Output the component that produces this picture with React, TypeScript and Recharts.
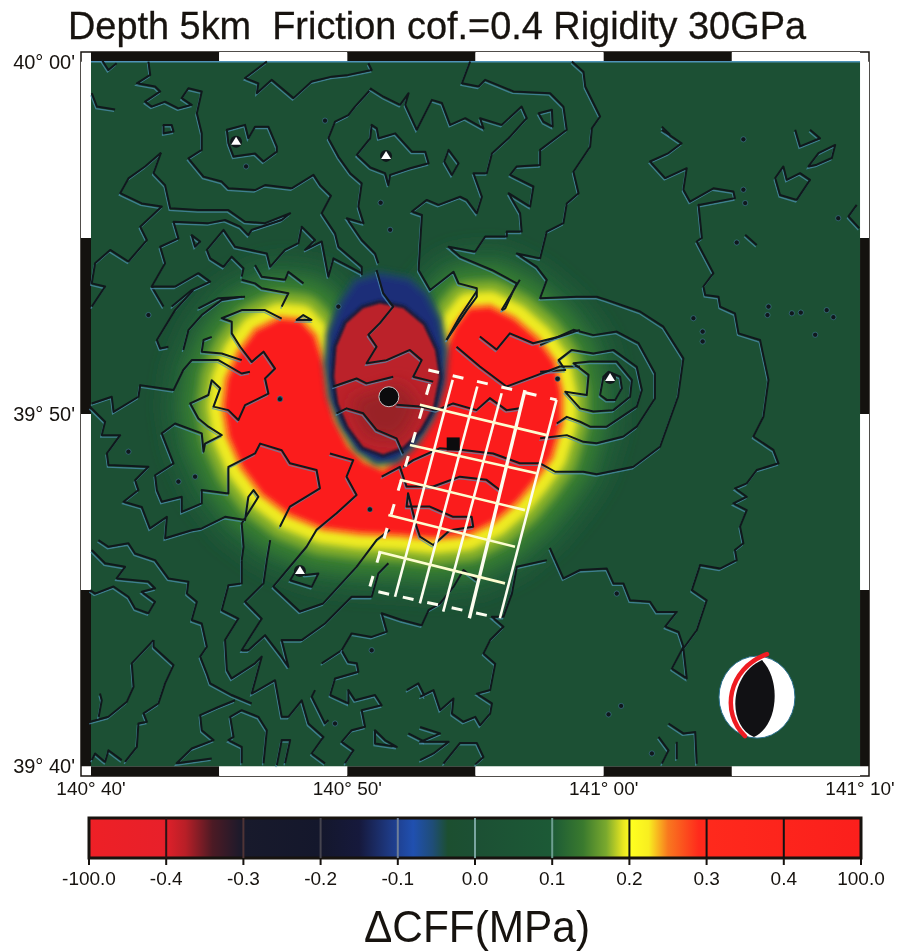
import { Curve, ReferenceArea, ReferenceLine, Scatter, ScatterChart, XAxis, YAxis } from "recharts"

// map coordinates: arc minutes past 140°00'E and 39°00'N
const lonTicks = [40, 50, 60, 70]
const latTicks = [60, 50, 40]
const frameLon = [40, 45, 50, 55, 60, 65, 70]
const frameLat = [60, 55, 50, 45, 40]

// dCFF = 0.3 MPa outline of the two positive lobes
const lobeOutline = [48.67,52.2, 48.15,52.62, 47.37,52.67, 46.46,52.34, 45.81,51.72, 45.36,50.97, 45.23,50.21, 45.42,49.36, 45.94,48.5, 46.72,47.75, 47.76,47.18, 49.06,46.8, 50.49,46.66, 52.05,46.61, 53.35,46.52, 54.65,46.61, 55.69,46.99, 56.6,47.56, 57.25,48.13, 57.9,48.79, 58.29,49.74, 58.29,50.59, 58.03,51.44, 57.38,52.1, 56.47,52.67, 55.56,53, 54.78,52.96, 54.26,52.48, 53.94,51.91, 53.74,51.35, 53.48,50.49, 53.35,49.93, 52.83,49.26, 52.18,48.79, 51.4,48.36, 50.62,48.6, 49.97,49.07, 49.45,49.83, 49.19,50.59, 49.06,51.35]
const shadowOutline = [51.27,54, 52.4,53.85, 53.09,53.43, 53.61,52.67, 53.84,51.82, 53.74,50.87, 53.35,49.93, 52.7,49.17, 51.92,48.65, 51.14,48.6, 50.36,48.98, 49.71,49.74, 49.32,50.49, 49.16,51.44, 49.26,52.29, 49.71,53.15, 50.3,53.8]
const coreOutline = [51.27,53.14, 52.18,53, 52.96,52.53, 53.42,51.82, 53.58,51.06, 53.35,50.21, 52.83,49.55, 52.18,49.07, 51.4,48.86, 50.62,49.07, 50.04,49.64, 49.65,50.3, 49.49,51.06, 49.58,51.91, 49.97,52.58, 50.62,53]
const coreDeep = [50.1,50.4, 52.05,50.87, 52.83,50.21, 52.05,49.26, 50.75,49.36]
const mapCorners = [40,40, 40,60, 70,60, 70,40]

// halo colours for the lobes, widest first
const bandColors = ["#235f38", "#357a33", "#86b02c", "#eeea22", "#f98a20", "#fb1f1c"]
const bandWidths = [124, 88, 56, 34, 10, 0]
const bandBlurs = [9, 7, 4, 3, 2, 2]

// topography, open lines
const topoLines = [
  [42.24,60.01, 42.31,59.63, 41.79,59.39, 42.5,59.3, 42.7,59.16, 42.11,58.87, 42.37,58.73, 42.89,58.87, 43.41,58.68, 43.93,58.78, 43.54,58.97, 43.8,59.25, 44.32,59.16, 44.13,58.54, 44.32,57.97, 44.32,57.5, 43.8,57.26, 44.39,56.74, 45.1,56.6, 45.36,56.41, 46.4,56.36, 46.79,56.5, 47.83,56.41, 48.68,56.79, 48.94,56.5, 49.36,56.2, 49,55.7, 49.52,55.13, 49.65,54.75, 50.56,54.18, 50.56,53.95],
  [40.03,59.11, 40.23,58.73, 40.94,58.65],
  [40.42,60.06, 40.68,59.77, 41,59.96],
  [46.86,60.01, 46.01,59.54, 46.53,59.39, 46.47,59.11, 47.05,59.49, 47.9,58.97, 48.61,59.44, 49.39,59.58, 50.04,59.63, 50.95,59.77, 50.82,59.96],
  [50.95,59.25, 50.3,58.73, 50.04,58.49, 49.52,58.3, 49.26,57.83, 49.65,57.31, 50.11,56.84, 50.56,56.55, 50.43,55.89, 50.63,55.42, 49.98,55.56, 50.56,54.94, 51.08,54.56, 51.21,54.28],
  [42.73,57.42, 42.11,57.03, 41.46,56.69, 41.14,56.27, 41.98,55.98, 42.76,55.89, 41.92,55.32, 42.18,54.94, 41.46,54.33, 40.75,54.66, 40.16,54.28, 40.03,53.71, 40.55,53.62, 40.03,53.05],
  [42.73,57.42, 42.44,56.84, 42.89,56.5, 43.09,55.84, 44.19,55.79, 45.36,55.79, 46.01,55.46, 46.79,55.42, 47.77,55.7, 47.44,55.51, 46.27,55.23, 46.14,55.08, 45.82,55.32, 45.23,55.51, 44.58,55.42, 43.22,55.46, 43.41,54.99, 42.7,54.75, 42.89,54.28, 42.37,53.62, 42.83,53.05],
  [45.88,53.9, 45.95,54.14, 45.49,54.47, 45.17,54.18, 44.65,54.42, 44.52,54.66, 45.17,55.23, 45.62,54.75, 46.86,54.56, 46.99,54.18, 47.57,54.66, 48.09,54.85, 48.22,55.32, 48.74,54.94, 48.35,54.66, 49,54.9, 49.26,53.9, 49.46,54.42, 50.56,54],
  [46.4,54.23, 46.66,53.9, 47.57,53.81, 47.7,54.04, 48.29,53.71],
  [42.37,53.62, 43.28,53.62, 44.19,54, 44.65,53.76, 43.93,53.52, 43.15,53.05],
  [44.19,53, 44.97,53.29, 46.01,53.33],
  [45.88,53.81, 46.4,53.71, 46.66,53.57, 47.7,53.43, 47.44,53.05],
  [43.99,53.52, 43.28,52.95, 42.57,52.1, 42.7,51.86, 43.02,51.91],
  [43.6,51.82, 43.8,52.38, 44.32,52.81, 45.1,53.24, 45.88,53.33],
  [47.44,52.71, 46.79,52.95, 45.88,52.95, 45.1,52.72, 45.49,52.62, 45.49,52.29, 45.82,51.91, 46.27,51.48, 46.73,51.77, 47.18,51.29, 46.79,51.01, 46.92,50.58, 46.01,50.25, 45.75,49.83, 45.36,50.11, 44.78,50.21, 45.04,50.73, 44.71,50.96, 44.58,50.54, 43.87,50.3, 44.19,49.87, 44.58,49.64, 45.1,49.4, 44.45,49.16, 44.39,48.93, 44.32,49.45, 43.28,49.73, 42.76,49.45, 43.22,48.6, 42.5,48.26, 42.57,47.84, 42.76,47.51, 43.54,47.65, 43.54,47.22, 44.32,47.46, 44.32,47.84, 45.36,47.74, 45.36,48.5, 46.4,48.88, 46.6,49.16, 47.44,48.97, 47.76,48.6, 48.8,48.41, 48.93,47.89, 47.76,47.37, 47.37,46.8],
  [40.03,50.3, 40.81,50.49, 40.88,50.06, 41.85,50.49, 41.92,50.82, 43.22,50.68, 43.6,51.25, 43.93,51.53, 44.97,51.53, 45.88,51.15, 46.2,51.2],
  [44.71,52.19, 44.39,52.1, 44.32,51.77, 45.1,51.72, 45.88,51.53],
  [39.97,50.2, 40.55,49.78, 40.42,49.4, 41.14,49.4, 40.62,48.88, 40.68,48.55, 42.24,48.5, 41.72,48.12, 41.85,47.84, 41.27,47.51, 41.98,47.36, 42.3,46.75, 42.96,47.08, 42.89,46.47, 43.93,46.7, 44.32,46.75, 45.23,47.08, 46.01,46.99, 46.14,47.65, 46.34,47.84, 46.53,47.65, 45.88,46.89, 45.95,46.23, 45.88,45.85],
  [49.32,48.88, 50.23,48.69, 49.97,48.22, 50.36,47.7, 49.58,47.18, 48.8,46.71, 48.41,46.23, 47.11,45.1, 48.15,44.39, 49.06,44.62, 50.36,45.66, 51.14,46.42, 51.66,46.71],
  [51.14,54.09, 51.4,53.43, 51.79,53.05, 51.27,52.58, 50.82,52.25, 51.14,51.91, 50.75,51.44, 51.53,51.53, 52.44,51.82, 52.9,51.53, 52.57,51.06, 53.35,50.92],
  [49.45,50.78, 50.36,51.01, 50.75,50.87, 51.79,51.06],
  [49.58,50.02, 49.97,50.16, 50.62,50.02, 51.14,49.55, 51.92,49.31, 52.18,48.88],
  [51.92,50.26, 52.83,50.21, 53.48,50.11, 54.13,50.3, 55.04,50.11, 55.56,50.45, 56.21,50.11, 56.73,50.16],
  [50.89,59.25, 51.41,59.01, 52.06,58.78, 52.39,59.11, 52.26,58.78, 52.71,58.07, 53.3,58.92, 53.69,58.83, 54.01,58.21, 54.6,58.4, 55.31,58.11, 55.18,58.4, 56.02,58.21, 56.8,58.73, 57,58.4, 56.29,57.83, 55.64,57.4, 55.44,56.84, 54.92,56.84, 55.25,56.17, 55.05,55.7, 54.66,56.08, 54.4,56.17, 53.56,55.94, 53.1,56.08, 52.52,55.75, 52.91,55.65, 52.84,54.85, 52.78,54.09, 53.23,53.52, 54.14,54.04, 54.34,53.71, 55.05,53.57, 55.05,53.33, 54.66,52.95, 53.87,52.1],
  [54.79,60.01, 54.47,59.39, 55.12,59.3, 55.38,59.49, 56.48,59.16, 57.91,59.11, 58.43,58.73, 58.56,58.07, 57.52,57.5, 57.52,57.07, 56.61,57.03, 56.35,56.79, 57.26,56.46, 57.13,55.89, 56.29,56.27, 56.74,55.7, 56.8,55.18, 56.22,55.18, 56.22,55.04, 55.38,55.04, 54.99,54.61, 53.95,54.75, 54.4,54.47, 55.64,54.09, 56.61,53.71, 56.16,53, 56.02,52.95],
  [58.76,60.01, 59.21,59.72, 59.28,59.3, 59.86,58.45, 59.54,58.11, 59.47,57.59, 58.82,56.88, 59.02,56.27, 58.56,55.98, 58.43,55.42, 57.78,55.18, 57.52,54.42, 56.61,54.56, 57.39,54.18, 57.78,53.81, 57.52,53.29, 58.95,53.33, 59.73,53.33, 60.12,53.24, 61.42,52.91, 62.33,52.48, 63.11,51.58, 62.9,50.49, 62.2,49.07, 61.16,48.5, 59.73,48.29, 59.21,48.36, 58.11,48.36, 57.52,48.6, 56.73,48.6, 55.69,48.88, 54.52,48.98, 53.61,49.03, 52.57,48.69, 52.18,48.5],
  [57.52,51.96, 58.82,52.39, 59.6,52.24, 60.51,52.34, 61.36,52.01, 62,51.16, 62,50.44, 61.29,49.64, 60.77,49.36, 59.73,49.17, 59.21,49.21, 58.56,49.4, 57.52,49.31],
  [57.52,51.2, 58.5,51.25, 58.24,51.53, 58.76,51.82, 59.6,51.72, 60.38,51.82, 61.29,51.34, 61.49,50.68, 61.29,50.21, 60.12,49.64, 59.47,49.64, 59.08,49.78, 58.56,49.92, 58.17,49.73],
  [62.27,58.16, 62.59,57.93],
  [62.27,58.07, 63.04,57.69, 62.53,57.41, 61.81,57.17, 62.4,56.7, 63.24,56.98, 63.11,56.37, 63.37,56.03, 64.28,56.41, 65.06,56.32, 65.12,56.13, 63.76,55.94, 63.7,55.94, 63.83,55, 63.63,54.9, 64.28,54, 63.89,53.62, 63.96,53.38, 64.48,53.33, 64.54,53.05, 65.12,52.86, 65.26,52.29, 66.1,52.1, 66.43,50.97, 66.23,49.92, 65.84,49.36, 66.62,48.98, 66.82,48.6, 65.97,48.41, 65.58,48.03, 65.12,47.89, 65.58,47.65, 65.06,47.46, 65.58,47.27, 65.32,46.8, 65.45,46.33, 65.12,46.14, 65.19,45.85, 64.54,45.61, 63.76,45.71, 63.44,45, 64.02,44.71, 63.63,43.86, 63.11,43.34, 63.24,42.49, 62.66,42.77, 63.11,43.39, 62.92,43.81, 62.4,43.96, 62.85,44.38, 62.07,44.38, 61.81,44.67, 61.03,44.71, 60.77,45.19, 60.38,45.19, 60.12,45.61, 59.08,45.57, 58.43,45.33, 58.11,45.85],
  [67.47,58.07, 67.66,57.6, 68.44,57.83, 68.05,58.07],
  [69.87,55.94, 69.55,55.61, 69.97,55.28],
  [65.52,55.09, 65.97,54.8],
  [40.29,46.42, 40.68,46.23, 41.46,46.33, 41.72,46.04, 42.5,45.85, 43.02,45.33, 43.8,45.24, 43.74,44.9, 44.13,44.67, 43.93,44.15, 44.32,44.05, 44.52,43.39, 44.26,43.11, 44.52,42.63, 44.65,42.35, 45.49,42.02, 46.27,41.78],
  [40.03,46.14, 40.55,45.76, 41.33,45.66, 41,45.33, 42.24,45.24, 42.5,45.05, 41.98,44.95, 42.5,44.67, 42.24,44.34, 41.72,44.48, 41.46,44.81, 40.88,45.1, 40.16,44.9, 39.97,45],
  [45.88,45.85, 45.88,45.19, 45.36,45.14, 45.1,44.43, 45.75,44.19, 45.23,43.58, 45.3,42.73, 45.49,42.49, 46.4,42.92, 46.66,43.11, 46.27,42.06, 47.18,42.44, 47.44,41.4, 47.7,41.4, 48.22,41.87, 48.48,41.21, 49.07,40.83, 48.61,40.36, 49.13,40.08],
  [46.99,46.42, 46.86,45.85, 46.73,45.19, 46.01,44.67, 46.66,44.19, 45.88,43.29, 46.14,43.29, 46.79,43.72, 47.44,43.1, 47.7,42.82, 47.44,43.58, 48.22,43.58, 49.13,44.05, 50.17,44.81, 50.56,44.81, 50.95,44.81, 51.21,45.47, 51.6,45.76],
  [42.44,43.58, 41.59,42.92, 41.66,42.25, 41.4,41.83, 40.68,41.4, 39.97,41.26],
  [42.44,43.58, 42.44,43.39, 43.22,42.87, 42.89,42.35, 42.63,41.78, 42.05,41.5, 42.18,41.26, 41.85,41.21, 41.79,40.55, 41.33,40.12],
  [40.35,42.06, 40.42,41.87, 40.3,41.4],
  [40.03,40.17, 40.16,40.36, 40.55,40.12, 40.68,40.45, 41.2,40.17],
  [45.62,41.87, 44.97,41.68, 44.26,41.45, 44.32,41.02, 44.78,40.74, 43.93,40.5, 43.34,40.08, 44.71,40.22],
  [46.73,40.08, 46.86,41.02, 46.53,41.4, 45.88,41.59, 45.43,41.4, 45.56,40.83, 45.36,40.74, 45.88,40.55, 45.88,40.08],
  [47.25,40.03, 47.44,40.74, 47.77,40.74, 47.57,40.08],
  [48.74,42.16, 48.61,41.97, 49.13,41.21, 49.26,41.31],
  [49,42.92, 49.78,43.29, 50.04,42.96, 50.37,42.92, 50.43,42.68, 49.52,42.49, 49.33,42.02, 50.04,41.78, 50.04,42.16, 50.3,41.87, 51.08,42.02, 51.34,41.73, 50.56,41.59, 50.69,41.12, 50.17,41.02, 49.78,40.69, 50.24,40.45, 49.91,40.08],
  [49.78,43.29, 50.17,43.77, 50.95,43.67, 51.54,43.82, 51.34,44.34, 52.12,44.15, 52.9,44, 53.17,44.43, 53.62,44.62, 54.14,45.09, 54.53,45.57, 55.05,45.28],
  [52.32,42.16, 52.77,42.35, 53.03,41.97],
  [52.38,40.93, 53.03,40.69],
  [57.78,45.85, 56.61,45.66, 56.42,44.9, 56.09,44.24, 55.64,44.24, 56.09,43.96, 55.57,43.58, 55.31,43.2, 55.77,42.91, 55.57,42.16, 55.05,42.06, 55.64,41.78, 55.57,41.49, 55.18,41.16, 54.99,41.4, 54.53,41.26, 54.08,41.49, 54.14,41.92, 53.62,41.59, 53.36,42.16, 52.84,41.97],
  [58.11,45.85, 57.9,46.2],
  [62.14,40.83, 62.53,40.45, 62.27,40.07],
  [62.53,41.21, 63.11,40.93, 63.57,40.97, 63.63,40.07],
  [62.85,40.69, 62.85,40.2],
  [53.75,40.07, 54.4,40.66, 55.05,40.66, 55.31,40.26, 54.99,40.05],
  [52.84,41.11, 53.62,40.93, 52.84,40.69, 53.95,40.69, 53.36,40.36, 52.84,40.17],
  [55.17,52.2, 55.82,51.83, 56.34,52.29, 57.25,52.01, 58.29,52.2, 59.07,52.39],
  [56.02,52.95, 56.73,53.81],
  [53.87,52.1, 54.39,52.77, 55.04,53.48],
  [54.26,51.91, 55.17,51.35, 56.21,50.78, 57.25,51.06, 58.29,51.35, 59.07,51.35],
  [51.34,48.22, 52.05,48.5, 52.31,47.94, 53.35,47.94, 54.39,48.22, 55.43,48.13, 55.95,47.84],
]

// topography, closed loops
const topoLoops = [
  [42.83,58.21, 43.15,58.21, 43.22,58.02, 42.83,57.97],
  [45.3,58.07, 46.01,58.21, 46.14,57.83, 46.4,58.16, 46.92,58.16, 47.25,57.59, 47.25,57.45, 46.73,57.17, 46.4,57.4, 45.56,57.31, 45.36,57.69],
  [50.95,58.21, 50.89,57.83, 50.37,57.36, 50.9,57, 51.47,56.84, 51.6,56.5, 51.67,56.79, 52.45,56.98, 53.17,57.12, 53.04,57.45, 52.52,57.45, 51.87,57.97, 51.22,57.83, 51.15,58.11],
  [43.93,55.08, 44.26,54.9, 44.06,54.75],
  [53.95,57.5, 54.34,57.12, 54.08,56.79, 53.78,57.17],
  [57.46,58.54, 57.98,58.64, 58.01,58.16, 57.65,58.3],
  [58.82,51.44, 59.47,51.49, 60.51,51.49, 61.1,50.97, 61.03,50.49, 60.38,50.11, 59.6,50.07, 59.08,50.16, 58.5,50.63, 59.34,50.54, 59.41,51.11],
  [60.19,51.2, 60.64,51.06, 60.71,50.73, 60.45,50.4, 60.12,50.4, 59.86,50.54, 59.99,51.06],
  [66.69,56.7, 67.01,57.03, 67.14,56.65, 67.66,56.84, 68.05,56.65, 67.53,56.08, 66.88,56.22],
  [67.99,57.03, 68.38,57.41, 69.03,57.64, 68.9,57.27, 68.31,57.08],
  [47.77,45.28, 48.09,45.66, 48.35,45.43, 48.87,45.47, 48.61,45.09],
  [51.08,41.02, 51.08,40.64, 51.93,40.55, 51.47,40.74],
  [52.37,47.75, 52.31,47.37, 53.22,47.37, 54.13,47.08, 54.85,47.08, 54.91,46.8, 54,46.7, 53.35,46.28, 52.83,46.52, 52.7,46.8],
  [48.02,52.67, 48.28,52.81, 48.6,52.67],
]

// tiny closed contours, shown as dots
const topoDots = [46.05,57.03, 49.13,58.33, 47.38,50.44, 41.46,48.93, 42.24,52.81, 43.41,48.08, 44.06,48.22, 51.3,56, 51.67,55.23, 65.45,56.37, 65.52,55.99, 65.19,54.87, 66.43,53.05, 66.39,52.81, 67.34,52.86, 67.69,52.88, 68.7,52.95, 68.96,52.75, 68.25,52.25, 63.5,52.72, 63.86,52.34, 63.86,52.06, 65.45,57.8, 69.15,55.56, 49.52,41.21, 50.95,43.29, 60.19,41.47, 60.68,41.71, 60.51,44.9, 61.88,40.36, 50.88,47.29, 47.37,50.42, 49.65,53.05, 58.2,51]

// source fault grid
const faultStrike = [
  [51.86,44.81, 54.11,50.97],
  [52.83,44.62, 55.07,50.78],
  [53.74,44.39, 56.02,50.59],
  [54.76,44.2, 56.93,50.68],
  [55.95,44.2, 58.16,50.4],
]
const faultDip = [
  [52.83,50.26, 57.77,49.4],
  [52.44,49.12, 57.38,48.32],
  [52.05,48.13, 56.93,47.27],
  [51.6,47.13, 56.54,46.23],
  [51.21,46.09, 56.15,45.19],
]
const faultDashed = [
  [50.88,45.1, 53.35,51.2],
  [53.16,51.25, 58.16,50.4],
  [51.21,44.95, 55.95,44.2],
]

const volcanoes = [{ x: 45.66, y: 57.73 }, { x: 51.51, y: 57.33 }, { x: 60.25, y: 51.02 }, { x: 48.15, y: 45.54 }]
const hypocentre = [{ x: 51.62, y: 50.49 }]
const epicentre = [{ x: 54.13, y: 49.15 }]
const mechanism = [{ x: 65.98, y: 41.96 }]

// colour bar
const barLabels = ["-100.0", "-0.4", "-0.3", "-0.2", "-0.1", "0.0", "0.1", "0.2", "0.3", "0.4", "100.0"]
const barTicks = [0, 1, 2, 3, 4, 5, 6, 7, 8, 9, 10]
const barSeparators = ["", "#2a1416", "#4f3436", "#45444f", "#6f7f98", "#79a5a0", "#6d9f90", "#111111", "#111111", "#111111", ""]
const barStopAt = [0, 0.95, 1.25, 1.6, 2, 3, 3.5, 3.9, 4.2, 4.45, 4.65, 5, 6, 6.4, 6.7, 6.92, 7.02, 7.25, 7.5, 7.9, 10]
const barStopColor = ["#ee2026", "#e8202a", "#b81f27", "#4c1a24", "#181a2c", "#14172c", "#16193c", "#1e3a84", "#2050b0", "#1f4d78", "#1c4f30", "#1c5034", "#1c5a36", "#3a7a2e", "#7aa92e", "#e8e620", "#ffff20", "#f8ee20", "#f8781f", "#ff2a1c", "#fb1f1c"]

const pairs = (flat: number[]) => {
  const out: { x: number; y: number }[] = []
  for (let i = 0; i < flat.length; i += 2) out.push({ x: flat[i], y: flat[i + 1] })
  return out
}

const noSymbol = () => null

const area = (key: string, flat: number[], fill: string, blur: string, stroke = "none", strokeWidth = 0) => (
  <Scatter
    key={key}
    data={pairs(flat)}
    isAnimationActive={false}
    shape={noSymbol}
    line={(p: any) => (
      <g filter={blur}>
        <Curve points={p.points} type="linearClosed" fill={fill} stroke={stroke} strokeWidth={strokeWidth} strokeLinejoin="round" />
      </g>
    )}
  />
)

const contour = (key: string, flat: number[], closed: boolean) => (
  <Scatter
    key={key}
    data={pairs(flat)}
    isAnimationActive={false}
    shape={noSymbol}
    line={(p: any) => (
      <g>
        <Curve points={p.points} type={closed ? "linearClosed" : "linear"} fill="none" stroke="#4f93b8" strokeWidth={1.3} opacity={0.7} transform="translate(-1,2)" />
        <Curve points={p.points} type={closed ? "linearClosed" : "linear"} fill="none" stroke="#10181c" strokeWidth={2} strokeLinejoin="round" />
      </g>
    )}
  />
)

const faultLine = (key: string, flat: number[], color: string, width: number, dash?: string) => (
  <Scatter
    key={key}
    data={pairs(flat)}
    isAnimationActive={false}
    shape={noSymbol}
    line={(p: any) => <Curve points={p.points} type="linear" fill="none" stroke={color} strokeWidth={width} strokeDasharray={dash} />}
  />
)

const lonLabel = (m: number) => (m >= 60 ? `141° ${String(m - 60).padStart(2, "0")}'` : `140° ${m}'`)
const latLabel = (m: number) => (m >= 60 ? `40° ${String(m - 60).padStart(2, "0")}'` : `39° ${m}'`)

const Triangle = (p: any) => (
  <g>
    <circle cx={p.cx} cy={p.cy} r={6} fill="#10181c" />
    <path d={`M${p.cx} ${p.cy - 5}L${p.cx + 5} ${p.cy + 3}L${p.cx - 5} ${p.cy + 3}Z`} fill="#ffffff" />
  </g>
)

const Hypo = (p: any) => <circle cx={p.cx} cy={p.cy} r={10} fill="#0b0b0d" stroke="#c9c4c4" strokeWidth={1} />
const Epi = (p: any) => <rect x={p.cx - 6.5} y={p.cy - 6.5} width={13} height={13} fill="#0c0c0e" />
const Dot = (p: any) => <circle cx={p.cx} cy={p.cy} r={2.6} fill="#10181c" stroke="#4f93b8" strokeOpacity={0.6} strokeWidth={0.8} />

const Beachball = (p: any) => {
  const { cx, cy } = p
  return (
    <g>
      <ellipse cx={cx} cy={cy} rx={38} ry={41} fill="#ffffff" stroke="#2a6f8f" strokeWidth={1} />
      <path d={`M${cx + 5} ${cy - 37}C${cx - 28} ${cy - 22} ${cx - 30} ${cy + 28} ${cx - 3} ${cy + 40}C${cx + 22} ${cy + 28} ${cx + 24} ${cy - 18} ${cx + 5} ${cy - 37}Z`} fill="#111114" />
      <path d={`M${cx + 10} ${cy - 43}C${cx - 30} ${cy - 28} ${cx - 36} ${cy + 16} ${cx - 12} ${cy + 39}`} fill="none" stroke="#ee1c22" strokeWidth={4.5} strokeLinecap="round" />
    </g>
  )
}

const barAnchor = barTicks.map((t) => ({ x: t, y: 0.5 }))

export default function App() {
  return (
    <div style={{ position: "fixed", left: 0, top: 0, width: 900, height: 952, overflow: "hidden", fontFamily: "'Liberation Sans', Arial, sans-serif" }}>
      <div style={{ position: "absolute", left: 0, top: 0 }}>
        <ScatterChart width={900} height={800} margin={{ top: 52, right: 31, bottom: 0, left: 0 }}>
          <defs>
            {bandBlurs.concat([1.5, 1, 8]).map((b) => (
              <filter key={b} id={`blur${String(b).replace(".", "_")}`} filterUnits="userSpaceOnUse" x={0} y={0} width={900} height={800}>
                <feGaussianBlur stdDeviation={b} />
              </filter>
            ))}
          </defs>
          <text x={68} y={39} fontSize={38} fill="#17130f" stroke="#17130f" strokeWidth={0.3} textLength={738} lengthAdjust="spacingAndGlyphs" style={{ whiteSpace: "pre" }}>
            Depth 5km  Friction cof.=0.4 Rigidity 30GPa
          </text>
          <XAxis
            type="number"
            dataKey="x"
            domain={[39.61, 70.35]}
            ticks={lonTicks}
            tickFormatter={lonLabel}
            axisLine={false}
            tickLine={false}
            tickMargin={0}
            interval={0}
            height={24}
            tick={{ fontSize: 19, fill: "#17130f" }}
            allowDataOverflow
          />
          <YAxis
            type="number"
            dataKey="y"
            domain={[39.72, 60.28]}
            ticks={latTicks}
            tickFormatter={latLabel}
            axisLine={false}
            tickLine={false}
            tickMargin={0}
            interval={0}
            width={81}
            tick={{ fontSize: 20, fill: "#17130f" }}
            allowDataOverflow
          />
          <ReferenceArea x1={39.61} x2={70.35} y1={39.72} y2={60.28} fill="#ffffff" fillOpacity={1} stroke="#17130f" strokeWidth={1.5} />
          {frameLon.slice(0, -1).map((lon, i) => (
            <ReferenceArea key={`t${lon}`} x1={lon} x2={frameLon[i + 1]} y1={60} y2={60.28} fill={i % 2 ? "#ffffff" : "#14120f"} fillOpacity={1} stroke="none" />
          ))}
          {frameLon.slice(0, -1).map((lon, i) => (
            <ReferenceArea key={`b${lon}`} x1={lon} x2={frameLon[i + 1]} y1={39.72} y2={40} fill={i % 2 ? "#ffffff" : "#14120f"} fillOpacity={1} stroke="none" />
          ))}
          {frameLat.slice(0, -1).map((lat, i) => (
            <ReferenceArea key={`l${lat}`} x1={39.61} x2={40} y1={frameLat[i + 1]} y2={lat} fill={i % 2 ? "#14120f" : "#ffffff"} fillOpacity={1} stroke="none" />
          ))}
          {frameLat.slice(0, -1).map((lat, i) => (
            <ReferenceArea key={`r${lat}`} x1={70} x2={70.35} y1={frameLat[i + 1]} y2={lat} fill={i % 2 ? "#14120f" : "#ffffff"} fillOpacity={1} stroke="none" />
          ))}

          {area("bg", mapCorners, "#1c5034", "none")}
          {faultLine("edge", [40,60, 70,60], "#4f93b8", 1.5)}
          {bandColors.map((c, i) => area(`band${i}`, lobeOutline, c, `url(#blur${String(bandBlurs[i]).replace(".", "_")})`, i < 5 ? c : "none", bandWidths[i]))}
          {area("shadow", shadowOutline, "#1d2d78", "url(#blur3)", "#1d4a60", 5)}
          {area("ring", coreOutline, "#121a3e", "url(#blur1_5)", "#121a3e", 7)}
          {area("core", coreOutline, "#bb2329", "url(#blur1)")}
          {area("deep", coreDeep, "#992327", "url(#blur8)")}

          {topoLines.map((l, i) => contour(`line${i}`, l, false))}
          {topoLoops.map((l, i) => contour(`loop${i}`, l, true))}
          <Scatter data={pairs(topoDots)} isAnimationActive={false} shape={Dot} />

          {faultStrike.map((l, i) => faultLine(`s${i}`, l, "#fdfdf0", i === 3 ? 3.4 : 2.6))}
          {faultDip.map((l, i) => faultLine(`d${i}`, l, "#fdfdd0", 2.6))}
          {faultDashed.map((l, i) => faultLine(`f${i}`, l, "#fdfdf0", 3, "11 14"))}

          <Scatter data={volcanoes} isAnimationActive={false} shape={Triangle} />
          <Scatter data={hypocentre} isAnimationActive={false} shape={Hypo} />
          <Scatter data={epicentre} isAnimationActive={false} shape={Epi} />
          <Scatter data={mechanism} isAnimationActive={false} shape={Beachball} />
        </ScatterChart>
      </div>
      <div style={{ position: "absolute", left: 0, top: 800 }}>
        <ScatterChart width={900} height={152} margin={{ top: 18, right: 39, bottom: 0, left: 89 }}>
          <defs>
            <linearGradient id="cffScale" x1="0" x2="1" y1="0" y2="0">
              {barStopAt.map((s, i) => (
                <stop key={s} offset={s / 10} stopColor={barStopColor[i]} />
              ))}
            </linearGradient>
          </defs>
          <XAxis
            type="number"
            dataKey="x"
            domain={[0, 10]}
            ticks={barTicks}
            tickFormatter={(i: number) => barLabels[i]}
            interval={0}
            axisLine={false}
            tickLine={{ stroke: "#17130f", strokeWidth: 2 }}
            tickSize={7}
            tickMargin={7}
            height={94}
            tick={{ fontSize: 19, fill: "#17130f" }}
          />
          <YAxis type="number" dataKey="y" domain={[0, 1]} hide />
          <ReferenceArea x1={0} x2={10} y1={0} y2={1} fill="url(#cffScale)" fillOpacity={1} stroke="#17130f" strokeWidth={3} />
          {barTicks.slice(1, -1).map((t) => (
            <ReferenceLine key={t} x={t} stroke={barSeparators[t]} strokeWidth={2} />
          ))}
          <Scatter data={barAnchor} isAnimationActive={false} shape={noSymbol} />
          <text x={477} y={142} fontSize={44} fill="#17130f" textAnchor="middle" textLength={226} lengthAdjust="spacingAndGlyphs">
            ΔCFF(MPa)
          </text>
        </ScatterChart>
      </div>
    </div>
  )
}
